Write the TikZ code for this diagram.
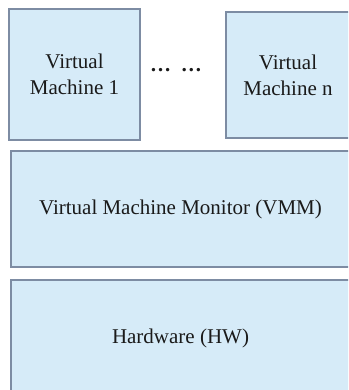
\documentclass[tikz,border=0pt]{standalone}
\usepackage{fontspec}
\setmainfont{Liberation Serif}
\definecolor{boxfill}{HTML}{D6EBF8}
\definecolor{boxline}{HTML}{7D8CA3}
\definecolor{txt}{HTML}{1A1A1A}
\begin{document}
\begin{tikzpicture}[x=1pt,y=-1pt,
  layer/.style={draw=boxline, fill=boxfill, line width=1.2pt, inner sep=0pt,
    text=txt, align=center, font=\fontsize{21}{26}\selectfont}]
  \useasboundingbox (0,0) rectangle (348,390);
  \clip (0,0) rectangle (348,390);
  % guest machines
  \node[layer, minimum width=131pt, minimum height=131pt] (vm1) at (74.5,74.5) {Virtual\\Machine 1};
  \node[layer, minimum width=124pt, minimum height=126pt] (vmn) at (288,75) {Virtual\\Machine n};
  \node[text=txt, font=\fontsize{21}{26}\bfseries\selectfont] (dots) at (176,70) {\dots\hspace{10pt}\dots};
  % monitor and hardware layers
  \node[layer, minimum width=339pt, minimum height=116pt] (vmm) at (180.5,209) {Virtual Machine Monitor (VMM)};
  \node[layer, minimum width=339pt, minimum height=116pt] (hw) at (180.5,338) {Hardware (HW)};
\end{tikzpicture}
\end{document}
